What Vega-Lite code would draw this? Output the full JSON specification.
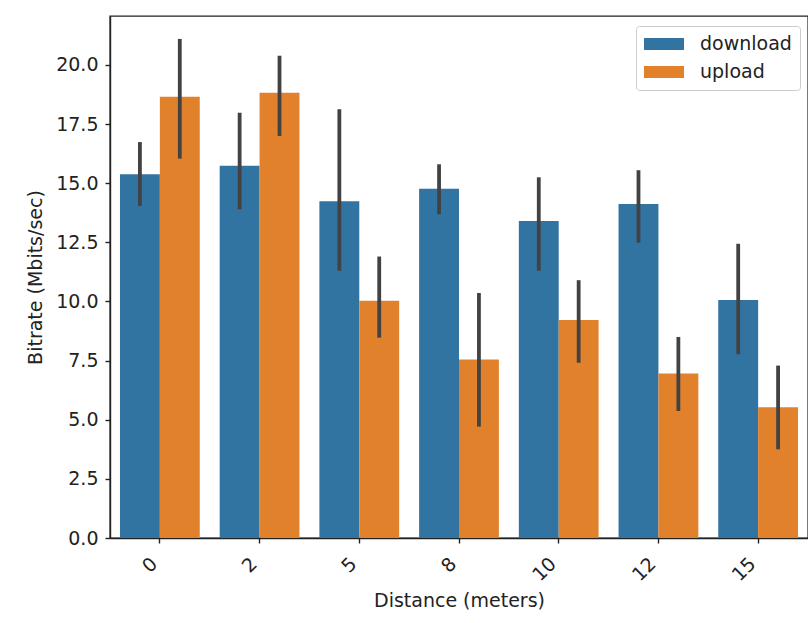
{
  "$schema": "https://vega.github.io/schema/vega-lite/v6.json",
  "autosize": "none",
  "width": 698,
  "height": 522,
  "padding": {"left": 110, "top": 16, "right": 0, "bottom": 85},
  "background": "white",
  "config": {
    "font": "DejaVu Sans",
    "view": {"stroke": "#222222", "strokeWidth": 1.4},
    "axis": {"grid": false, "domainColor": "#222222", "tickColor": "#222222", "labelColor": "#222222", "titleColor": "#222222", "labelFontSize": 19, "titleFontSize": 19, "titleFontWeight": "normal", "tickSize": 5, "domainWidth": 1.4, "tickWidth": 1.4}
  },
  "data": {"values": [
    {"distance": "0", "type": "download", "value": 15.38, "lo": 14.04, "hi": 16.74},
    {"distance": "0", "type": "upload", "value": 18.66, "lo": 16.04, "hi": 21.1},
    {"distance": "2", "type": "download", "value": 15.74, "lo": 13.9, "hi": 17.98},
    {"distance": "2", "type": "upload", "value": 18.83, "lo": 17.0, "hi": 20.39},
    {"distance": "5", "type": "download", "value": 14.24, "lo": 11.3, "hi": 18.13},
    {"distance": "5", "type": "upload", "value": 10.03, "lo": 8.47, "hi": 11.9},
    {"distance": "8", "type": "download", "value": 14.77, "lo": 13.69, "hi": 15.8},
    {"distance": "8", "type": "upload", "value": 7.55, "lo": 4.71, "hi": 10.36},
    {"distance": "10", "type": "download", "value": 13.4, "lo": 11.3, "hi": 15.25},
    {"distance": "10", "type": "upload", "value": 9.22, "lo": 7.41, "hi": 10.9},
    {"distance": "12", "type": "download", "value": 14.12, "lo": 12.49, "hi": 15.55},
    {"distance": "12", "type": "upload", "value": 6.95, "lo": 5.37, "hi": 8.5},
    {"distance": "15", "type": "download", "value": 10.06, "lo": 7.77, "hi": 12.44},
    {"distance": "15", "type": "upload", "value": 5.53, "lo": 3.75, "hi": 7.29}
  ]},
  "encoding": {
    "x": {"field": "distance", "type": "nominal", "sort": null,
      "scale": {"paddingInner": 0.2, "paddingOuter": 0.1},
      "axis": {"title": "Distance (meters)", "labelAngle": -45, "labelAlign": "right", "labelBaseline": "top", "labelPadding": 11, "labelOffset": -12, "titlePadding": 7}},
    "xOffset": {"field": "type", "type": "nominal", "scale": {"paddingInner": 0, "paddingOuter": 0}}
  },
  "layer": [
    {
      "mark": {"type": "bar"},
      "encoding": {
        "y": {"field": "value", "type": "quantitative",
          "scale": {"domain": [0, 22.07], "nice": false},
          "axis": {"title": "Bitrate (Mbits/sec)", "values": [0, 2.5, 5, 7.5, 10, 12.5, 15, 17.5, 20], "format": ".1f", "labelPadding": 7, "titlePadding": 10}},
        "color": {"field": "type", "type": "nominal",
          "scale": {"domain": ["download", "upload"], "range": ["#3274a1", "#e1812c"]},
          "legend": {"title": null, "orient": "none", "legendX": 526, "legendY": 10,
            "fillColor": "white", "strokeColor": "#cccccc", "cornerRadius": 3, "padding": 8,
            "symbolType": "M-1,-0.6H3V0.6H-1Z", "symbolSize": 400, "symbolStrokeWidth": 0, "symbolOpacity": 1,
            "labelFontSize": 19, "labelColor": "#222222", "rowPadding": 8, "labelOffset": 36}}
      }
    },
    {
      "mark": {"type": "rule", "color": "#424242", "strokeWidth": 3.8},
      "encoding": {
        "y": {"field": "lo", "type": "quantitative"},
        "y2": {"field": "hi"}
      }
    }
  ]
}
